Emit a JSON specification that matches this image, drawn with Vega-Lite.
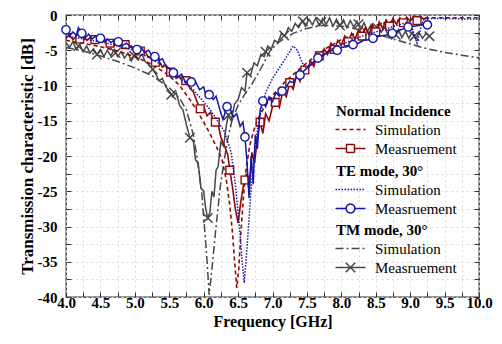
{
  "$schema": "https://vega.github.io/schema/vega-lite/v6.json",
  "width": 413,
  "height": 282,
  "autosize": {"type": "none"},
  "padding": {"left": 66, "top": 15, "right": 23, "bottom": 47},
  "background": "white",
  "config": {
    "view": {"stroke": "#333333", "strokeWidth": 1.3},
    "font": "Liberation Serif",
    "legend": {
      "labelFont": "Liberation Serif", "labelFontSize": 15, "labelColor": "black",
      "titleFont": "Liberation Serif", "titleFontSize": 15, "titleFontWeight": "bold", "titleColor": "black",
      "symbolSize": 64, "symbolStrokeWidth": 1.5, "labelOffset": 24, "rowPadding": 3, "titlePadding": 3, "padding": 0
    }
  },
  "datasets": {
    "ni": [
      {"f":4.0,"db":-3.6,"type":"Simulation"},{"f":4.25,"db":-4.0,"type":"Simulation"},{"f":4.5,"db":-4.5,"type":"Simulation"},{"f":4.75,"db":-5.1,"type":"Simulation"},{"f":5.0,"db":-5.9,"type":"Simulation"},{"f":5.25,"db":-7.0,"type":"Simulation"},{"f":5.5,"db":-8.6,"type":"Simulation"},{"f":5.65,"db":-10.0,"type":"Simulation"},{"f":5.8,"db":-12.0,"type":"Simulation"},{"f":5.9,"db":-13.5,"type":"Simulation"},{"f":6.0,"db":-15.2,"type":"Simulation"},{"f":6.1,"db":-17.0,"type":"Simulation"},{"f":6.2,"db":-19.0,"type":"Simulation"},{"f":6.27,"db":-20.6,"type":"Simulation"},{"f":6.33,"db":-23.5,"type":"Simulation"},{"f":6.38,"db":-27,"type":"Simulation"},{"f":6.42,"db":-31,"type":"Simulation"},{"f":6.45,"db":-35,"type":"Simulation"},{"f":6.48,"db":-38.7,"type":"Simulation"},{"f":6.51,"db":-36,"type":"Simulation"},{"f":6.54,"db":-31,"type":"Simulation"},{"f":6.58,"db":-25.5,"type":"Simulation"},{"f":6.62,"db":-21.5,"type":"Simulation"},{"f":6.67,"db":-18.5,"type":"Simulation"},{"f":6.73,"db":-16.3,"type":"Simulation"},{"f":6.8,"db":-14.5,"type":"Simulation"},{"f":6.9,"db":-12.8,"type":"Simulation"},{"f":7.0,"db":-11.4,"type":"Simulation"},{"f":7.2,"db":-9.3,"type":"Simulation"},{"f":7.4,"db":-7.6,"type":"Simulation"},{"f":7.6,"db":-6.0,"type":"Simulation"},{"f":7.8,"db":-4.6,"type":"Simulation"},{"f":8.0,"db":-3.5,"type":"Simulation"},{"f":8.2,"db":-2.6,"type":"Simulation"},{"f":8.4,"db":-1.8,"type":"Simulation"},{"f":8.6,"db":-1.2,"type":"Simulation"},{"f":8.8,"db":-0.8,"type":"Simulation"},{"f":9.0,"db":-0.6,"type":"Simulation"},{"f":9.3,"db":-0.4,"type":"Simulation"},{"f":9.6,"db":-0.4,"type":"Simulation"},{"f":10.0,"db":-0.4,"type":"Simulation"},
      {"f":4.0,"db":-3.3,"type":"Measruement"},{"f":4.05,"db":-2.8,"type":"Measruement"},{"f":4.1,"db":-3.5,"type":"Measruement"},{"f":4.15,"db":-3.0,"type":"Measruement"},{"f":4.2,"db":-3.4,"type":"Measruement"},{"f":4.25,"db":-2.9,"type":"Measruement"},{"f":4.3,"db":-3.6,"type":"Measruement"},{"f":4.35,"db":-3.2,"type":"Measruement"},{"f":4.4,"db":-3.7,"type":"Measruement"},{"f":4.45,"db":-3.3,"type":"Measruement"},{"f":4.5,"db":-3.8,"type":"Measruement"},{"f":4.55,"db":-3.5,"type":"Measruement"},{"f":4.6,"db":-4.1,"type":"Measruement"},{"f":4.65,"db":-3.7,"type":"Measruement"},{"f":4.7,"db":-4.3,"type":"Measruement"},{"f":4.75,"db":-3.9,"type":"Measruement"},{"f":4.8,"db":-4.4,"type":"Measruement"},{"f":4.85,"db":-4.1,"type":"Measruement"},{"f":4.9,"db":-4.7,"type":"Measruement"},{"f":4.95,"db":-4.4,"type":"Measruement"},{"f":5.0,"db":-5.0,"type":"Measruement"},{"f":5.05,"db":-4.7,"type":"Measruement"},{"f":5.1,"db":-5.4,"type":"Measruement"},{"f":5.15,"db":-5.2,"type":"Measruement"},{"f":5.2,"db":-6.0,"type":"Measruement"},{"f":5.25,"db":-5.8,"type":"Measruement"},{"f":5.3,"db":-6.7,"type":"Measruement"},{"f":5.35,"db":-6.5,"type":"Measruement"},{"f":5.4,"db":-7.4,"type":"Measruement"},{"f":5.45,"db":-7.1,"type":"Measruement"},{"f":5.5,"db":-8.3,"type":"Measruement"},{"f":5.55,"db":-8.0,"type":"Measruement"},{"f":5.6,"db":-9.0,"type":"Measruement"},{"f":5.65,"db":-8.7,"type":"Measruement"},{"f":5.7,"db":-9.6,"type":"Measruement"},{"f":5.75,"db":-9.3,"type":"Measruement"},{"f":5.8,"db":-10.4,"type":"Measruement"},{"f":5.85,"db":-10.9,"type":"Measruement"},{"f":5.9,"db":-12.2,"type":"Measruement"},{"f":5.95,"db":-13.3,"type":"Measruement"},{"f":6.0,"db":-13.0,"type":"Measruement"},{"f":6.05,"db":-14.3,"type":"Measruement"},{"f":6.1,"db":-13.8,"type":"Measruement"},{"f":6.15,"db":-15.3,"type":"Measruement"},{"f":6.2,"db":-15.0,"type":"Measruement"},{"f":6.25,"db":-17.4,"type":"Measruement"},{"f":6.3,"db":-18.5,"type":"Measruement"},{"f":6.35,"db":-19.8,"type":"Measruement"},{"f":6.38,"db":-22.0,"type":"Measruement"},{"f":6.42,"db":-24.5,"type":"Measruement"},{"f":6.46,"db":-27.5,"type":"Measruement"},{"f":6.5,"db":-29.5,"type":"Measruement"},{"f":6.54,"db":-26.5,"type":"Measruement"},{"f":6.58,"db":-24.0,"type":"Measruement"},{"f":6.62,"db":-22.5,"type":"Measruement"},{"f":6.66,"db":-24.8,"type":"Measruement"},{"f":6.7,"db":-19.5,"type":"Measruement"},{"f":6.74,"db":-21.0,"type":"Measruement"},{"f":6.78,"db":-17.5,"type":"Measruement"},{"f":6.82,"db":-15.2,"type":"Measruement"},{"f":6.86,"db":-16.8,"type":"Measruement"},{"f":6.9,"db":-14.0,"type":"Measruement"},{"f":6.95,"db":-15.0,"type":"Measruement"},{"f":7.0,"db":-13.0,"type":"Measruement"},{"f":7.05,"db":-12.2,"type":"Measruement"},{"f":7.1,"db":-13.1,"type":"Measruement"},{"f":7.15,"db":-10.8,"type":"Measruement"},{"f":7.2,"db":-11.6,"type":"Measruement"},{"f":7.25,"db":-9.6,"type":"Measruement"},{"f":7.3,"db":-10.5,"type":"Measruement"},{"f":7.35,"db":-8.5,"type":"Measruement"},{"f":7.4,"db":-9.4,"type":"Measruement"},{"f":7.45,"db":-7.6,"type":"Measruement"},{"f":7.5,"db":-8.2,"type":"Measruement"},{"f":7.55,"db":-6.5,"type":"Measruement"},{"f":7.6,"db":-7.3,"type":"Measruement"},{"f":7.65,"db":-5.4,"type":"Measruement"},{"f":7.7,"db":-6.4,"type":"Measruement"},{"f":7.75,"db":-4.8,"type":"Measruement"},{"f":7.8,"db":-5.6,"type":"Measruement"},{"f":7.85,"db":-4.0,"type":"Measruement"},{"f":7.9,"db":-4.9,"type":"Measruement"},{"f":7.95,"db":-3.6,"type":"Measruement"},{"f":8.0,"db":-4.3,"type":"Measruement"},{"f":8.05,"db":-3.0,"type":"Measruement"},{"f":8.1,"db":-3.8,"type":"Measruement"},{"f":8.15,"db":-2.6,"type":"Measruement"},{"f":8.2,"db":-3.4,"type":"Measruement"},{"f":8.25,"db":-2.1,"type":"Measruement"},{"f":8.3,"db":-3.0,"type":"Measruement"},{"f":8.35,"db":-1.8,"type":"Measruement"},{"f":8.4,"db":-2.8,"type":"Measruement"},{"f":8.45,"db":-1.4,"type":"Measruement"},{"f":8.5,"db":-2.4,"type":"Measruement"},{"f":8.55,"db":-1.0,"type":"Measruement"},{"f":8.6,"db":-1.9,"type":"Measruement"},{"f":8.65,"db":-0.7,"type":"Measruement"},{"f":8.7,"db":-1.6,"type":"Measruement"},{"f":8.75,"db":-0.5,"type":"Measruement"},{"f":8.8,"db":-1.3,"type":"Measruement"},{"f":8.85,"db":-0.4,"type":"Measruement"},{"f":8.9,"db":-1.1,"type":"Measruement"},{"f":8.95,"db":-0.3,"type":"Measruement"},{"f":9.0,"db":-0.9,"type":"Measruement"},{"f":9.05,"db":-0.2,"type":"Measruement"},{"f":9.1,"db":-0.8,"type":"Measruement"},{"f":9.15,"db":-0.2,"type":"Measruement"},{"f":9.2,"db":-0.6,"type":"Measruement"},{"f":9.25,"db":-0.3,"type":"Measruement"}
    ],
    "ni_m": [
      {"f":4.2,"db":-3.4},{"f":4.42,"db":-3.5},{"f":4.64,"db":-4.0},{"f":4.86,"db":-4.2},{"f":5.08,"db":-5.1},{"f":5.3,"db":-6.7},{"f":5.52,"db":-8.1},{"f":5.74,"db":-9.3},{"f":5.95,"db":-13.3},{"f":6.17,"db":-15.2},{"f":6.38,"db":-22.0},{"f":6.6,"db":-23.4},{"f":6.82,"db":-15.2},{"f":7.04,"db":-12.4},{"f":7.25,"db":-9.6},{"f":7.47,"db":-7.8},{"f":7.68,"db":-5.8},{"f":7.9,"db":-4.9},{"f":8.1,"db":-3.8},{"f":8.3,"db":-3.0},{"f":8.5,"db":-2.4},{"f":8.7,"db":-1.6},{"f":8.9,"db":-1.1},{"f":9.1,"db":-0.8}
    ],
    "te": [
      {"f":4.0,"db":-3.0,"type":"Simulation"},{"f":4.5,"db":-3.8,"type":"Simulation"},{"f":5.0,"db":-5.0,"type":"Simulation"},{"f":5.5,"db":-7.6,"type":"Simulation"},{"f":5.85,"db":-10.6,"type":"Simulation"},{"f":6.1,"db":-13.5,"type":"Simulation"},{"f":6.3,"db":-16.5,"type":"Simulation"},{"f":6.4,"db":-19.5,"type":"Simulation"},{"f":6.46,"db":-24,"type":"Simulation"},{"f":6.52,"db":-30,"type":"Simulation"},{"f":6.56,"db":-35,"type":"Simulation"},{"f":6.59,"db":-38,"type":"Simulation"},{"f":6.63,"db":-33,"type":"Simulation"},{"f":6.68,"db":-26,"type":"Simulation"},{"f":6.73,"db":-20,"type":"Simulation"},{"f":6.8,"db":-15,"type":"Simulation"},{"f":6.9,"db":-11,"type":"Simulation"},{"f":7.0,"db":-9,"type":"Simulation"},{"f":7.1,"db":-7.5,"type":"Simulation"},{"f":7.2,"db":-6.0,"type":"Simulation"},{"f":7.3,"db":-4.4,"type":"Simulation"},{"f":7.36,"db":-5.0,"type":"Simulation"},{"f":7.42,"db":-6.5,"type":"Simulation"},{"f":7.47,"db":-7.5,"type":"Simulation"},{"f":7.55,"db":-7.2,"type":"Simulation"},{"f":7.7,"db":-5.8,"type":"Simulation"},{"f":7.9,"db":-4.6,"type":"Simulation"},{"f":8.1,"db":-3.8,"type":"Simulation"},{"f":8.3,"db":-3.0,"type":"Simulation"},{"f":8.5,"db":-2.4,"type":"Simulation"},{"f":8.7,"db":-1.8,"type":"Simulation"},{"f":8.9,"db":-1.2,"type":"Simulation"},{"f":9.0,"db":-1.0,"type":"Simulation"},{"f":9.05,"db":-2.5,"type":"Simulation"},{"f":9.1,"db":-4.0,"type":"Simulation"},{"f":9.15,"db":-2.0,"type":"Simulation"},{"f":9.2,"db":-0.5,"type":"Simulation"},{"f":9.5,"db":-0.5,"type":"Simulation"},{"f":10.0,"db":-0.6,"type":"Simulation"},
      {"f":4.0,"db":-2.1,"type":"Measruement"},{"f":4.05,"db":-3.0,"type":"Measruement"},{"f":4.1,"db":-2.4,"type":"Measruement"},{"f":4.15,"db":-2.9,"type":"Measruement"},{"f":4.18,"db":-1.8,"type":"Measruement"},{"f":4.23,"db":-2.6,"type":"Measruement"},{"f":4.28,"db":-3.2,"type":"Measruement"},{"f":4.33,"db":-2.7,"type":"Measruement"},{"f":4.38,"db":-3.4,"type":"Measruement"},{"f":4.43,"db":-3.0,"type":"Measruement"},{"f":4.5,"db":-3.3,"type":"Measruement"},{"f":4.55,"db":-3.8,"type":"Measruement"},{"f":4.6,"db":-3.4,"type":"Measruement"},{"f":4.65,"db":-3.9,"type":"Measruement"},{"f":4.7,"db":-3.6,"type":"Measruement"},{"f":4.76,"db":-3.8,"type":"Measruement"},{"f":4.82,"db":-4.3,"type":"Measruement"},{"f":4.88,"db":-4.0,"type":"Measruement"},{"f":4.95,"db":-4.6,"type":"Measruement"},{"f":5.03,"db":-4.9,"type":"Measruement"},{"f":5.08,"db":-4.5,"type":"Measruement"},{"f":5.14,"db":-5.3,"type":"Measruement"},{"f":5.2,"db":-5.0,"type":"Measruement"},{"f":5.25,"db":-5.8,"type":"Measruement"},{"f":5.29,"db":-5.9,"type":"Measruement"},{"f":5.35,"db":-6.5,"type":"Measruement"},{"f":5.4,"db":-6.2,"type":"Measruement"},{"f":5.45,"db":-7.2,"type":"Measruement"},{"f":5.5,"db":-7.6,"type":"Measruement"},{"f":5.56,"db":-8.2,"type":"Measruement"},{"f":5.62,"db":-8.8,"type":"Measruement"},{"f":5.68,"db":-8.4,"type":"Measruement"},{"f":5.74,"db":-9.6,"type":"Measruement"},{"f":5.78,"db":-9.2,"type":"Measruement"},{"f":5.82,"db":-9.5,"type":"Measruement"},{"f":5.88,"db":-9.4,"type":"Measruement"},{"f":5.94,"db":-10.6,"type":"Measruement"},{"f":6.0,"db":-10.2,"type":"Measruement"},{"f":6.04,"db":-11.6,"type":"Measruement"},{"f":6.08,"db":-11.3,"type":"Measruement"},{"f":6.14,"db":-12.0,"type":"Measruement"},{"f":6.18,"db":-11.5,"type":"Measruement"},{"f":6.24,"db":-13.6,"type":"Measruement"},{"f":6.28,"db":-14.8,"type":"Measruement"},{"f":6.34,"db":-13.0,"type":"Measruement"},{"f":6.38,"db":-13.2,"type":"Measruement"},{"f":6.43,"db":-14.5,"type":"Measruement"},{"f":6.48,"db":-14.0,"type":"Measruement"},{"f":6.53,"db":-15.8,"type":"Measruement"},{"f":6.57,"db":-15.2,"type":"Measruement"},{"f":6.6,"db":-17.3,"type":"Measruement"},{"f":6.63,"db":-21,"type":"Measruement"},{"f":6.66,"db":-26.0,"type":"Measruement"},{"f":6.69,"db":-20,"type":"Measruement"},{"f":6.72,"db":-24,"type":"Measruement"},{"f":6.75,"db":-17,"type":"Measruement"},{"f":6.78,"db":-19,"type":"Measruement"},{"f":6.82,"db":-13.5,"type":"Measruement"},{"f":6.86,"db":-12.2,"type":"Measruement"},{"f":6.9,"db":-13.0,"type":"Measruement"},{"f":6.95,"db":-11.6,"type":"Measruement"},{"f":7.0,"db":-12.3,"type":"Measruement"},{"f":7.05,"db":-11.0,"type":"Measruement"},{"f":7.1,"db":-11.5,"type":"Measruement"},{"f":7.14,"db":-10.8,"type":"Measruement"},{"f":7.2,"db":-10.2,"type":"Measruement"},{"f":7.25,"db":-9.4,"type":"Measruement"},{"f":7.3,"db":-9.6,"type":"Measruement"},{"f":7.35,"db":-8.8,"type":"Measruement"},{"f":7.4,"db":-8.5,"type":"Measruement"},{"f":7.46,"db":-7.9,"type":"Measruement"},{"f":7.52,"db":-7.4,"type":"Measruement"},{"f":7.58,"db":-6.8,"type":"Measruement"},{"f":7.66,"db":-6.1,"type":"Measruement"},{"f":7.72,"db":-5.8,"type":"Measruement"},{"f":7.8,"db":-5.4,"type":"Measruement"},{"f":7.86,"db":-5.0,"type":"Measruement"},{"f":7.94,"db":-5.0,"type":"Measruement"},{"f":8.0,"db":-4.6,"type":"Measruement"},{"f":8.08,"db":-4.5,"type":"Measruement"},{"f":8.17,"db":-4.2,"type":"Measruement"},{"f":8.25,"db":-4.0,"type":"Measruement"},{"f":8.32,"db":-3.6,"type":"Measruement"},{"f":8.4,"db":-3.5,"type":"Measruement"},{"f":8.46,"db":-3.3,"type":"Measruement"},{"f":8.55,"db":-3.0,"type":"Measruement"},{"f":8.62,"db":-2.9,"type":"Measruement"},{"f":8.68,"db":-2.8,"type":"Measruement"},{"f":8.74,"db":-2.6,"type":"Measruement"},{"f":8.8,"db":-2.3,"type":"Measruement"},{"f":8.86,"db":-2.1,"type":"Measruement"},{"f":8.92,"db":-1.9,"type":"Measruement"},{"f":8.97,"db":-1.7,"type":"Measruement"},{"f":9.05,"db":-1.6,"type":"Measruement"},{"f":9.12,"db":-1.5,"type":"Measruement"},{"f":9.18,"db":-1.3,"type":"Measruement"},{"f":9.25,"db":-1.4,"type":"Measruement"},{"f":9.3,"db":-0.9,"type":"Measruement"}
    ],
    "te_m": [
      {"f":4.0,"db":-2.1},{"f":4.23,"db":-2.6},{"f":4.5,"db":-3.3},{"f":4.76,"db":-3.8},{"f":5.03,"db":-4.9},{"f":5.29,"db":-5.9},{"f":5.56,"db":-8.2},{"f":5.82,"db":-9.5},{"f":6.08,"db":-11.3},{"f":6.34,"db":-13.0},{"f":6.6,"db":-17.3},{"f":6.86,"db":-12.2},{"f":7.14,"db":-10.8},{"f":7.4,"db":-8.5},{"f":7.66,"db":-6.1},{"f":7.94,"db":-5.0},{"f":8.17,"db":-4.2},{"f":8.46,"db":-3.3},{"f":8.74,"db":-2.6},{"f":8.97,"db":-1.7},{"f":9.25,"db":-1.4}
    ],
    "tm": [
      {"f":4.0,"db":-4.6,"type":"Simulation"},{"f":4.25,"db":-5.1,"type":"Simulation"},{"f":4.5,"db":-5.8,"type":"Simulation"},{"f":4.75,"db":-6.6,"type":"Simulation"},{"f":5.0,"db":-7.5,"type":"Simulation"},{"f":5.25,"db":-8.6,"type":"Simulation"},{"f":5.5,"db":-10.3,"type":"Simulation"},{"f":5.65,"db":-11.8,"type":"Simulation"},{"f":5.75,"db":-13.5,"type":"Simulation"},{"f":5.85,"db":-17,"type":"Simulation"},{"f":5.9,"db":-20,"type":"Simulation"},{"f":5.97,"db":-25,"type":"Simulation"},{"f":6.02,"db":-31,"type":"Simulation"},{"f":6.05,"db":-35,"type":"Simulation"},{"f":6.08,"db":-39.7,"type":"Simulation"},{"f":6.12,"db":-36,"type":"Simulation"},{"f":6.17,"db":-31,"type":"Simulation"},{"f":6.24,"db":-24.4,"type":"Simulation"},{"f":6.34,"db":-18,"type":"Simulation"},{"f":6.41,"db":-15,"type":"Simulation"},{"f":6.5,"db":-12.8,"type":"Simulation"},{"f":6.6,"db":-11.2,"type":"Simulation"},{"f":6.7,"db":-9.8,"type":"Simulation"},{"f":6.82,"db":-7.8,"type":"Simulation"},{"f":6.97,"db":-5.0,"type":"Simulation"},{"f":7.1,"db":-3.8,"type":"Simulation"},{"f":7.3,"db":-2.6,"type":"Simulation"},{"f":7.5,"db":-1.9,"type":"Simulation"},{"f":7.7,"db":-1.5,"type":"Simulation"},{"f":7.9,"db":-1.5,"type":"Simulation"},{"f":8.1,"db":-1.7,"type":"Simulation"},{"f":8.3,"db":-2.2,"type":"Simulation"},{"f":8.5,"db":-2.7,"type":"Simulation"},{"f":8.75,"db":-3.4,"type":"Simulation"},{"f":9.0,"db":-4.1,"type":"Simulation"},{"f":9.25,"db":-4.8,"type":"Simulation"},{"f":9.5,"db":-5.3,"type":"Simulation"},{"f":9.75,"db":-5.7,"type":"Simulation"},{"f":10.0,"db":-6.1,"type":"Simulation"},
      {"f":4.0,"db":-3.9,"type":"Measruement"},{"f":4.05,"db":-4.6,"type":"Measruement"},{"f":4.1,"db":-3.8,"type":"Measruement"},{"f":4.15,"db":-4.9,"type":"Measruement"},{"f":4.2,"db":-4.2,"type":"Measruement"},{"f":4.25,"db":-5.2,"type":"Measruement"},{"f":4.3,"db":-4.4,"type":"Measruement"},{"f":4.35,"db":-5.4,"type":"Measruement"},{"f":4.4,"db":-4.8,"type":"Measruement"},{"f":4.45,"db":-5.6,"type":"Measruement"},{"f":4.5,"db":-4.9,"type":"Measruement"},{"f":4.55,"db":-5.9,"type":"Measruement"},{"f":4.6,"db":-5.0,"type":"Measruement"},{"f":4.65,"db":-5.8,"type":"Measruement"},{"f":4.7,"db":-4.9,"type":"Measruement"},{"f":4.75,"db":-5.9,"type":"Measruement"},{"f":4.8,"db":-5.2,"type":"Measruement"},{"f":4.85,"db":-6.1,"type":"Measruement"},{"f":4.9,"db":-5.4,"type":"Measruement"},{"f":4.95,"db":-6.5,"type":"Measruement"},{"f":5.0,"db":-5.6,"type":"Measruement"},{"f":5.05,"db":-6.3,"type":"Measruement"},{"f":5.1,"db":-5.5,"type":"Measruement"},{"f":5.15,"db":-6.6,"type":"Measruement"},{"f":5.2,"db":-7.0,"type":"Measruement"},{"f":5.25,"db":-7.6,"type":"Measruement"},{"f":5.3,"db":-8.3,"type":"Measruement"},{"f":5.35,"db":-9.3,"type":"Measruement"},{"f":5.4,"db":-9.0,"type":"Measruement"},{"f":5.45,"db":-10.2,"type":"Measruement"},{"f":5.5,"db":-10.8,"type":"Measruement"},{"f":5.55,"db":-11.6,"type":"Measruement"},{"f":5.6,"db":-11.0,"type":"Measruement"},{"f":5.65,"db":-12.8,"type":"Measruement"},{"f":5.7,"db":-13.5,"type":"Measruement"},{"f":5.75,"db":-15.6,"type":"Measruement"},{"f":5.8,"db":-17.4,"type":"Measruement"},{"f":5.85,"db":-17.8,"type":"Measruement"},{"f":5.88,"db":-20.5,"type":"Measruement"},{"f":5.92,"db":-21.0,"type":"Measruement"},{"f":5.96,"db":-24.5,"type":"Measruement"},{"f":6.0,"db":-25.0,"type":"Measruement"},{"f":6.03,"db":-27.5,"type":"Measruement"},{"f":6.06,"db":-28.8,"type":"Measruement"},{"f":6.09,"db":-28.0,"type":"Measruement"},{"f":6.12,"db":-25.0,"type":"Measruement"},{"f":6.15,"db":-25.8,"type":"Measruement"},{"f":6.18,"db":-22.0,"type":"Measruement"},{"f":6.21,"db":-21.5,"type":"Measruement"},{"f":6.25,"db":-18.0,"type":"Measruement"},{"f":6.29,"db":-18.6,"type":"Measruement"},{"f":6.33,"db":-15.6,"type":"Measruement"},{"f":6.36,"db":-14.2,"type":"Measruement"},{"f":6.4,"db":-15.0,"type":"Measruement"},{"f":6.45,"db":-12.6,"type":"Measruement"},{"f":6.5,"db":-12.0,"type":"Measruement"},{"f":6.55,"db":-10.3,"type":"Measruement"},{"f":6.6,"db":-10.8,"type":"Measruement"},{"f":6.63,"db":-8.2,"type":"Measruement"},{"f":6.68,"db":-8.6,"type":"Measruement"},{"f":6.73,"db":-6.8,"type":"Measruement"},{"f":6.78,"db":-7.2,"type":"Measruement"},{"f":6.83,"db":-5.6,"type":"Measruement"},{"f":6.88,"db":-5.9,"type":"Measruement"},{"f":6.93,"db":-4.4,"type":"Measruement"},{"f":6.98,"db":-4.9,"type":"Measruement"},{"f":7.03,"db":-3.6,"type":"Measruement"},{"f":7.08,"db":-3.9,"type":"Measruement"},{"f":7.13,"db":-2.6,"type":"Measruement"},{"f":7.18,"db":-3.0,"type":"Measruement"},{"f":7.23,"db":-1.8,"type":"Measruement"},{"f":7.28,"db":-2.3,"type":"Measruement"},{"f":7.33,"db":-1.2,"type":"Measruement"},{"f":7.38,"db":-1.8,"type":"Measruement"},{"f":7.43,"db":-0.8,"type":"Measruement"},{"f":7.48,"db":-1.6,"type":"Measruement"},{"f":7.53,"db":-0.6,"type":"Measruement"},{"f":7.58,"db":-1.4,"type":"Measruement"},{"f":7.63,"db":-0.4,"type":"Measruement"},{"f":7.68,"db":-1.5,"type":"Measruement"},{"f":7.73,"db":-0.5,"type":"Measruement"},{"f":7.78,"db":-1.3,"type":"Measruement"},{"f":7.83,"db":-0.4,"type":"Measruement"},{"f":7.88,"db":-1.6,"type":"Measruement"},{"f":7.93,"db":-0.6,"type":"Measruement"},{"f":7.98,"db":-1.5,"type":"Measruement"},{"f":8.03,"db":-0.7,"type":"Measruement"},{"f":8.08,"db":-1.8,"type":"Measruement"},{"f":8.13,"db":-0.8,"type":"Measruement"},{"f":8.18,"db":-1.7,"type":"Measruement"},{"f":8.23,"db":-0.9,"type":"Measruement"},{"f":8.28,"db":-2.1,"type":"Measruement"},{"f":8.33,"db":-1.1,"type":"Measruement"},{"f":8.38,"db":-2.3,"type":"Measruement"},{"f":8.43,"db":-1.4,"type":"Measruement"},{"f":8.48,"db":-2.6,"type":"Measruement"},{"f":8.53,"db":-1.6,"type":"Measruement"},{"f":8.58,"db":-2.4,"type":"Measruement"},{"f":8.63,"db":-1.7,"type":"Measruement"},{"f":8.68,"db":-2.9,"type":"Measruement"},{"f":8.73,"db":-2.0,"type":"Measruement"},{"f":8.78,"db":-3.0,"type":"Measruement"},{"f":8.83,"db":-2.1,"type":"Measruement"},{"f":8.88,"db":-3.2,"type":"Measruement"},{"f":8.93,"db":-2.3,"type":"Measruement"},{"f":8.98,"db":-3.3,"type":"Measruement"},{"f":9.03,"db":-2.4,"type":"Measruement"},{"f":9.08,"db":-3.4,"type":"Measruement"},{"f":9.13,"db":-2.5,"type":"Measruement"},{"f":9.18,"db":-3.3,"type":"Measruement"},{"f":9.23,"db":-2.6,"type":"Measruement"},{"f":9.28,"db":-3.0,"type":"Measruement"}
    ],
    "tm_m": [
      {"f":4.18,"db":-4.4},{"f":4.45,"db":-5.6},{"f":4.72,"db":-5.4},{"f":4.99,"db":-5.8},{"f":5.26,"db":-7.7},{"f":5.53,"db":-11.3},{"f":5.8,"db":-17.4},{"f":6.06,"db":-28.8},{"f":6.36,"db":-14.2},{"f":6.63,"db":-8.2},{"f":6.9,"db":-5.2},{"f":7.17,"db":-2.9},{"f":7.44,"db":-0.9},{"f":7.71,"db":-1.0},{"f":7.98,"db":-1.5},{"f":8.25,"db":-1.3},{"f":8.52,"db":-1.8},{"f":8.79,"db":-2.8},{"f":9.06,"db":-3.0},{"f":9.28,"db":-3.0}
    ]
  },
  "layer": [
    {
      "data": {"name": "tm"},
      "mark": {"type": "line", "strokeWidth": 1.5},
      "encoding": {
        "x": {"field": "f", "type": "quantitative", "scale": {"domain": [4, 10], "nice": false, "zero": false},
          "axis": {"orient": "bottom", "title": "Frequency [GHz]", "values": [4,4.25,4.5,4.75,5,5.25,5.5,5.75,6,6.25,6.5,6.75,7,7.25,7.5,7.75,8,8.25,8.5,8.75,9,9.25,9.5,9.75,10],
            "labelExpr": "datum.value % 0.5 === 0 ? format(datum.value, '.1f') : ''",
            "tickSize": -5, "tickColor": "#333333", "grid": true, "gridDash": [2, 3], "gridColor": "#dadada", "domain": false,
            "labelFont": "Liberation Serif", "labelFontWeight": "bold", "labelFontSize": 15, "labelColor": "black", "labelPadding": 3, "labelOverlap": false, "labelFlush": false,
            "titleFont": "Liberation Serif", "titleFontWeight": "bold", "titleFontSize": 16, "titleColor": "black", "titlePadding": 3}},
        "y": {"field": "db", "type": "quantitative", "scale": {"domain": [-40, 0], "nice": false, "zero": false},
          "axis": {"orient": "left", "title": "Transmission characteristic [dB]", "values": [-40,-37.5,-35,-32.5,-30,-27.5,-25,-22.5,-20,-17.5,-15,-12.5,-10,-7.5,-5,-2.5,0],
            "labelExpr": "datum.value % 5 === 0 ? '' + datum.value : ''",
            "tickSize": -5, "tickColor": "#333333", "grid": true, "gridDash": [2, 3], "gridColor": "#dadada", "domain": false,
            "labelFont": "Liberation Serif", "labelFontWeight": "bold", "labelFontSize": 15, "labelColor": "black", "labelPadding": 14, "labelOverlap": false, "labelFlush": false,
            "titleFont": "Liberation Serif", "titleFontWeight": "bold", "titleFontSize": 17, "titleColor": "black", "titlePadding": 1}},
        "color": {"field": "type", "type": "nominal", "scale": {"domain": ["Simulation", "Measruement"], "range": ["#474747", "#474747"]},
          "legend": {"title": "TM mode, 30°", "values": ["Simulation"], "orient": "none", "legendX": 270, "legendY": 208, "symbolType": "M-2,0H5.5", "symbolDash": [8, 3, 2, 3], "symbolStrokeColor": "#474747"}},
        "strokeDash": {"field": "type", "type": "nominal", "scale": {"domain": ["Measruement", "Simulation"], "range": [[1, 0], [8, 3, 2, 3]]},
          "legend": {"title": null, "values": ["Measruement"], "orient": "none", "legendX": 270, "legendY": 245, "symbolType": "M-2,0H5.5M0.55,-1.2L2.95,1.2M0.55,1.2L2.95,-1.2", "symbolStrokeColor": "#474747"}}
      }
    },
    {
      "data": {"name": "tm_m"},
      "mark": {"type": "point", "shape": "M-1,-1L1,1M-1,1L1,-1", "size": 90, "stroke": "#474747", "strokeWidth": 1.5, "filled": false, "opacity": 1},
      "encoding": {
        "x": {"field": "f", "type": "quantitative", "scale": {"domain": [4, 10], "nice": false, "zero": false}, "axis": null},
        "y": {"field": "db", "type": "quantitative", "scale": {"domain": [-40, 0], "nice": false, "zero": false}, "axis": null}
      }
    },
    {
      "data": {"name": "ni"},
      "mark": {"type": "line", "strokeWidth": 1.6},
      "encoding": {
        "x": {"field": "f", "type": "quantitative", "scale": {"domain": [4, 10], "nice": false, "zero": false}, "axis": null},
        "y": {"field": "db", "type": "quantitative", "scale": {"domain": [-40, 0], "nice": false, "zero": false}, "axis": null},
        "color": {"field": "type", "type": "nominal", "scale": {"domain": ["Simulation", "Measruement"], "range": ["#8e0a0a", "#8e0a0a"]},
          "legend": {"title": "Normal Incidence", "values": ["Simulation"], "orient": "none", "legendX": 270, "legendY": 89, "symbolType": "M-2,0H5.5", "symbolDash": [4, 3], "symbolStrokeColor": "#8e0a0a"}},
        "strokeDash": {"field": "type", "type": "nominal", "scale": {"domain": ["Measruement", "Simulation"], "range": [[1, 0], [4, 3]]},
          "legend": {"title": null, "values": ["Measruement"], "orient": "none", "legendX": 270, "legendY": 126, "symbolType": "M-2,0H0.75M2.75,0H5.5M0.75,-1H2.75V1H0.75Z", "symbolStrokeColor": "#8e0a0a"}}
      }
    },
    {
      "data": {"name": "ni_m"},
      "mark": {"type": "point", "shape": "square", "size": 60, "stroke": "#8e0a0a", "fill": "white", "strokeWidth": 1.4, "opacity": 1},
      "encoding": {
        "x": {"field": "f", "type": "quantitative", "scale": {"domain": [4, 10], "nice": false, "zero": false}, "axis": null},
        "y": {"field": "db", "type": "quantitative", "scale": {"domain": [-40, 0], "nice": false, "zero": false}, "axis": null}
      }
    },
    {
      "data": {"name": "te"},
      "mark": {"type": "line", "strokeWidth": 1.5},
      "encoding": {
        "x": {"field": "f", "type": "quantitative", "scale": {"domain": [4, 10], "nice": false, "zero": false},
          "axis": {"orient": "top", "title": null, "values": [4,4.25,4.5,4.75,5,5.25,5.5,5.75,6,6.25,6.5,6.75,7,7.25,7.5,7.75,8,8.25,8.5,8.75,9,9.25,9.5,9.75,10],
            "labels": false, "grid": false, "domain": false, "tickColor": "#333333", "tickSize": -5}},
        "y": {"field": "db", "type": "quantitative", "scale": {"domain": [-40, 0], "nice": false, "zero": false},
          "axis": {"orient": "right", "title": null, "values": [-40,-37.5,-35,-32.5,-30,-27.5,-25,-22.5,-20,-17.5,-15,-12.5,-10,-7.5,-5,-2.5,0],
            "labels": false, "grid": false, "domain": false, "tickColor": "#333333", "tickSize": -5}},
        "color": {"field": "type", "type": "nominal", "scale": {"domain": ["Simulation", "Measruement"], "range": ["#1616a8", "#1616a8"]},
          "legend": {"title": "TE mode, 30°", "values": ["Simulation"], "orient": "none", "legendX": 270, "legendY": 149, "symbolType": "M-2,0H5.5", "symbolDash": [1.5, 1.5], "symbolStrokeColor": "#1616a8"}},
        "strokeDash": {"field": "type", "type": "nominal", "scale": {"domain": ["Measruement", "Simulation"], "range": [[1, 0], [1.5, 1.5]]},
          "legend": {"title": null, "values": ["Measruement"], "orient": "none", "legendX": 270, "legendY": 186, "symbolType": "M-2,0H0.65M2.85,0H5.5M2.85,0A1.1,1.1 0 1,1 0.65,0A1.1,1.1 0 1,1 2.85,0", "symbolStrokeColor": "#1616a8"}}
      }
    },
    {
      "data": {"name": "te_m"},
      "mark": {"type": "point", "shape": "circle", "size": 70, "stroke": "#1616a8", "fill": "white", "strokeWidth": 1.4, "opacity": 1},
      "encoding": {
        "x": {"field": "f", "type": "quantitative", "scale": {"domain": [4, 10], "nice": false, "zero": false}, "axis": null},
        "y": {"field": "db", "type": "quantitative", "scale": {"domain": [-40, 0], "nice": false, "zero": false}, "axis": null}
      }
    }
  ],
  "resolve": {"scale": {"color": "independent", "strokeDash": "independent"}, "axis": {"x": "independent", "y": "independent"}}
}
